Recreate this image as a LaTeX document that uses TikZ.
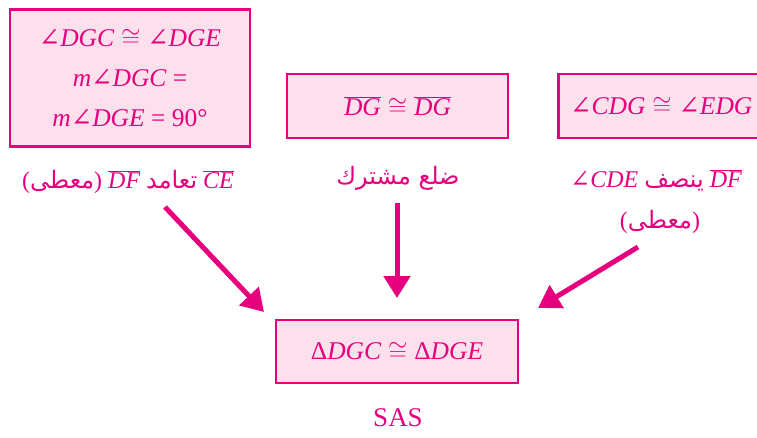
\documentclass[tikz,border=0pt]{standalone}
\usepackage{fontspec}
\setmainfont{Liberation Serif}
\newfontfamily\arabicfont[Script=Arabic]{DejaVu Sans}
\newfontfamily\symfont{DejaVu Serif}
\TeXXeTstate=1
\usepackage{tikz}
\usetikzlibrary{arrows.meta}
\definecolor{stepmagenta}{HTML}{E6007E}
\definecolor{stepfill}{HTML}{FCE0EC}
\newcommand{\angsym}{{\symfont\upshape ∠}}
\newcommand{\congsym}{${}\cong{}$}
\newcommand{\seg}[1]{$\overline{\mbox{\itshape #1}}$}

\tikzset{
  factbox/.style={fill=stepfill, draw=stepmagenta, line width=2.6pt,
        align=center, text=stepmagenta, inner sep=0pt,
        font=\fontsize{25.5}{40}\selectfont\itshape},
  reason/.style={text=stepmagenta, align=center, inner sep=0pt,
        font=\fontsize{24}{42}\selectfont},
  implies/.style={draw=stepmagenta, line width=5pt,
        -{Triangle[width=26pt,length=22pt]}}
}

\begin{document}
\begin{tikzpicture}[x=1pt, y=-1pt]
  \useasboundingbox (0,0) rectangle (757,437);
  \begin{scope}
  \clip (0,0) rectangle (757,437);
  % given facts
  \node[factbox, minimum width=240pt, minimum height=137pt] (rightangle) at (130,78)
    {\angsym DGC\congsym\angsym DGE\\ m\angsym DGC {\upshape =}\\ m\angsym DGE {\upshape = 90°}};
  \node[factbox, minimum width=221pt, minimum height=64pt] (common) at (397.5,106)
    {\seg{DG}\congsym\seg{DG}};
  \node[factbox, minimum width=206pt, minimum height=64pt, anchor=west] (bisect) at (557,106)
    {\angsym CDG\congsym\angsym EDG};
  % reasons
  \node[reason] (why1) at (128,182)
    {({\arabicfont\beginR معطى\endR}) \seg{DF} {\arabicfont\beginR تعامد\endR} \seg{CE}};
  \node[reason] (why2) at (398,178) {\arabicfont\beginR ضلع مشترك\endR};
  \node[reason] (why3) at (656,180)
    {\angsym\textit{CDE} {\arabicfont\beginR ينصف\endR} \seg{DF}};
  \node[reason] (why3b) at (660,222) {({\arabicfont\beginR معطى\endR})};
  % conclusion
  \node[factbox, minimum width=242pt, minimum height=63pt] (result) at (397,351.5)
    {{\upshape Δ}DGC\congsym{\upshape Δ}DGE};
  \node[reason, font=\fontsize{27}{30}\selectfont] (sas) at (398,418) {SAS};
  \coordinate (from1) at (165,207);
  \coordinate (from2) at (397,203);
  \coordinate (from3) at (638,247);
  \coordinate (tip1) at (264,312);
  \coordinate (tip2) at (397,298);
  \coordinate (tip3) at (538,308);
  \draw[implies] (from1) -- (tip1);
  \draw[implies] (from2) -- (tip2);
  \draw[implies] (from3) -- (tip3);
  \end{scope}
\end{tikzpicture}
\end{document}
